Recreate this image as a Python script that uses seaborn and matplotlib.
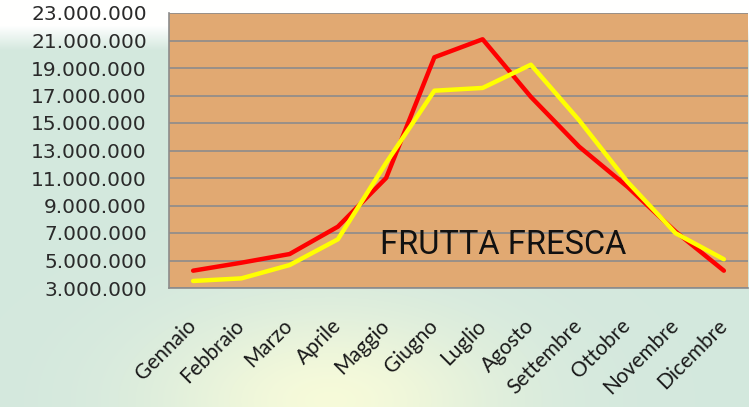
import matplotlib
matplotlib.use("Agg")
import matplotlib.pyplot as plt
import matplotlib.ticker as mticker
import seaborn as sns
import pandas as pd
import numpy as np

mesi = ["Gennaio", "Febbraio", "Marzo", "Aprile", "Maggio", "Giugno",
        "Luglio", "Agosto", "Settembre", "Ottobre", "Novembre", "Dicembre"]
serie_rossa = [4.26e6, 4.84e6, 5.47e6, 7.46e6, 11.0e6, 19.78e6,
               21.09e6, 16.9e6, 13.28e6, 10.37e6, 7.1e6, 4.26e6]
serie_gialla = [3.51e6, 3.7e6, 4.67e6, 6.54e6, 12.1e6, 17.35e6,
                17.55e6, 19.24e6, 15.2e6, 10.73e6, 6.98e6, 5.09e6]
y_ticks = np.arange(3_000_000, 23_000_001, 2_000_000)

df = pd.DataFrame({
    "mese": list(range(len(mesi))) * 2,
    "valore": serie_rossa + serie_gialla,
    "serie": ["rossa"] * len(mesi) + ["gialla"] * len(mesi),
})

sns.set_style("white")
plt.rcParams["font.family"] = ["DejaVu Sans"]

fig = plt.figure(figsize=(7.49, 4.07), dpi=100)

# sfondo: verde chiaro, bianco in alto, alone giallo in basso al centro
bg = fig.add_axes([0, 0, 1, 1], zorder=-10)
yy, xx = np.mgrid[0:407, 0:749]
base = np.array([0.83, 0.91, 0.87])
img = np.ones((407, 749, 3)) * base
top = np.clip(1 - (yy - 25) / 25.0, 0, 1)[..., None]
img = img * (1 - top) + top * 1.0
glow = np.exp(-(((xx - 330) / 170.0) ** 2 + ((yy - 400) / 90.0) ** 2))[..., None]
img = img * (1 - 0.8 * glow) + 0.8 * glow * np.array([1.0, 1.0, 0.85])
bg.imshow(img, aspect="auto", extent=[0, 1, 0, 1])
bg.axis("off")

ax = fig.add_axes([169 / 749, 1 - 288 / 407, 579 / 749, 275 / 407])
ax.set_facecolor("#E1A972")

sns.lineplot(data=df, x="mese", y="valore", hue="serie",
             palette={"rossa": "#FF0000", "gialla": "#FFFF00"},
             linewidth=3.2, legend=False, ax=ax, zorder=3)

ax.set_xlim(-0.5, len(mesi) - 0.5)
ax.set_ylim(y_ticks[0], y_ticks[-1])
ax.set_yticks(y_ticks)
ax.yaxis.set_major_formatter(
    mticker.FuncFormatter(lambda v, p: f"{int(v):,}".replace(",", ".")))
ax.grid(axis="y", color="#8c8c8c", linewidth=1.2, zorder=1)
ax.set_axisbelow(True)

ax.set_xticks(range(len(mesi)))
ax.set_xticklabels(mesi, rotation=45, ha="right", va="center",
                   rotation_mode="anchor", fontsize=15, color="#1a1a1a",
                   family=["Lato", "DejaVu Sans"])
ax.set_xticks(np.arange(-0.5, len(mesi), 1), minor=True)
ax.tick_params(axis="x", which="major", length=0, pad=25)
ax.tick_params(axis="x", which="minor", length=8, color="#8c8c8c", width=1.2)
ax.tick_params(axis="y", length=9, color="#8c8c8c", width=1.2,
               labelsize=14.5, labelcolor="#2a2a2a", pad=7)

for side in ["top", "right"]:
    ax.spines[side].set_visible(False)
for side in ["left", "bottom"]:
    ax.spines[side].set_color("#8c8c8c")
    ax.spines[side].set_linewidth(1.2)

ax.set_xlabel("")
ax.set_ylabel("")

ax.text(0.577, 0.156, "FRUTTA FRESCA", transform=ax.transAxes,
        ha="center", va="center", fontsize=23.5, color="#111111",
        family=["Roboto", "DejaVu Sans"])

fig.savefig("out.png", dpi=100)
